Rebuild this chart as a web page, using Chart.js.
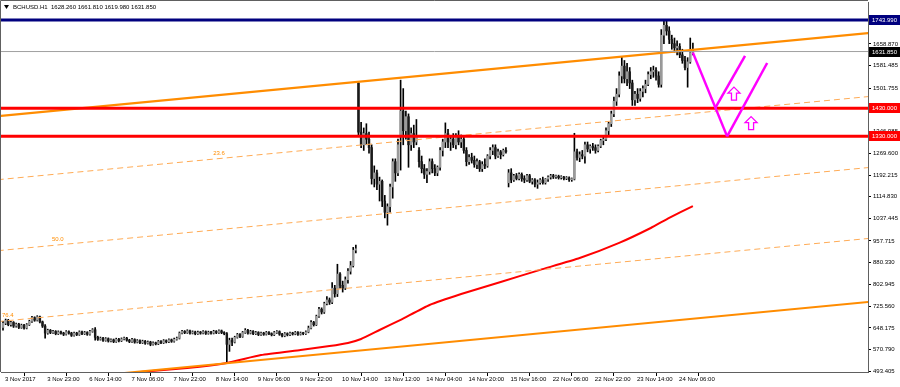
<!DOCTYPE html>
<html>
<head>
<meta charset="utf-8">
<title>BCHUSD H1</title>
<script src="https://cdn.jsdelivr.net/npm/chart.js@4.4.0/dist/chart.umd.min.js"></script>
<style>
  html, body { margin: 0; padding: 0; background: #fff; }
  #chart { display: block; }
</style>
</head>
<body>
<canvas id="chart" width="900" height="387"></canvas>
<script>
// BCHUSD H1 bars (3 Nov - 24 Nov 2017)
const opens = [
  650,665,675,660,668,655,662,650,658,648,
  660,672,685,676,688,670,655,630,640,632,
  636,628,634,630,626,635,630,622,630,625,
  634,628,632,626,636,642,615,608,612,604,
  610,602,606,600,608,603,609,612,605,600,
  607,598,603,596,601,594,598,590,595,592,
  600,596,603,599,606,601,608,612,630,636,
  632,638,630,634,628,633,630,635,629,633,
  630,636,632,638,632,628,590,604,598,615,
  625,618,632,640,630,636,628,632,625,630,
  626,632,628,624,632,635,626,620,628,624,
  630,627,632,626,630,628,634,648,668,660,
  690,715,705,735,748,740,790,770,840,800,
  790,820,850,870,925,1520,1345,1300,1340,1320,
  1290,1180,1200,1160,1170,1100,1060,1080,1150,1240,
  1200,1330,1420,1350,1400,1300,1340,1310,1280,1240,
  1215,1195,1205,1240,1215,1200,1220,1280,1310,1340,
  1310,1320,1300,1330,1310,1320,1280,1240,1255,1245,
  1230,1240,1215,1230,1225,1260,1280,1290,1260,1275,
  1265,1280,1165,1200,1175,1190,1180,1195,1180,1175,
  1190,1170,1175,1160,1165,1175,1165,1178,1185,1190,
  1186,1188,1183,1185,1180,1182,1176,1178,1275,1255,
  1265,1260,1300,1285,1295,1290,1280,1295,1315,1320,
  1350,1375,1410,1455,1480,1545,1580,1535,1560,1520,
  1460,1480,1465,1490,1500,1515,1550,1560,1565,1545,
  1515,1690,1725,1705,1675,1660,1645,1650,1620,1600,
  1575,1595,1628.26
];
const highs = [
  672,680,679,672,671,666,665,662,661,664,
  676,690,688,692,691,673,660,644,643,640,
  639,638,637,633,639,638,633,634,633,638,
  637,636,635,640,646,650,619,616,615,614,
  613,610,609,612,611,613,616,615,608,611,
  610,607,606,605,604,602,601,599,598,604,
  603,607,606,610,609,612,616,634,640,639,
  642,641,638,637,637,636,639,638,637,636,
  640,639,642,641,635,632,612,612,619,629,
  628,636,646,643,640,639,636,635,634,633,
  636,635,631,636,639,638,629,632,631,634,
  633,636,635,634,633,638,655,675,672,694,
  722,720,740,760,755,810,800,875,845,815,
  830,860,885,935,943,1525,1380,1360,1375,1345,
  1300,1225,1210,1185,1175,1120,1090,1160,1250,1250,
  1320,1530,1500,1420,1410,1360,1370,1390,1290,1260,
  1230,1215,1250,1250,1230,1225,1290,1320,1378,1355,
  1330,1340,1340,1350,1335,1330,1290,1265,1270,1260,
  1250,1245,1240,1250,1265,1290,1300,1300,1285,1280,
  1285,1290,1212,1215,1195,1198,1200,1200,1190,1195,
  1195,1180,1180,1175,1180,1185,1180,1190,1195,1195,
  1192,1192,1190,1188,1187,1186,1182,1341,1285,1275,
  1280,1310,1310,1300,1305,1300,1300,1320,1330,1360,
  1380,1420,1470,1500,1560,1612,1600,1590,1575,1530,
  1490,1500,1500,1510,1530,1560,1575,1580,1575,1560,
  1710,1740,1744,1720,1690,1680,1670,1660,1640,1615,
  1610,1680,1661.81
];
const lows = [
  640,660,656,655,650,651,646,647,644,645,
  657,668,672,673,666,650,612,626,628,629,
  624,625,626,621,623,626,618,619,621,622,
  624,625,622,623,633,605,604,605,600,601,
  598,599,596,597,599,600,606,601,596,597,
  594,595,592,593,590,591,585,587,588,589,
  592,593,595,596,597,598,605,609,627,628,
  629,626,627,624,625,626,627,625,626,626,
  627,628,629,628,624,526,565,585,595,612,
  614,615,629,626,627,624,625,621,622,622,
  623,624,620,621,629,622,616,617,620,621,
  623,624,622,623,624,625,631,645,655,657,
  686,698,700,730,732,735,758,760,790,776,
  785,808,840,865,915,1330,1290,1280,1300,1270,
  1160,1150,1140,1100,1080,1040,1014,1060,1110,1170,
  1190,1210,1300,1320,1220,1280,1290,1300,1220,1200,
  1180,1165,1195,1200,1190,1190,1210,1260,1290,1290,
  1280,1290,1285,1300,1290,1270,1225,1230,1235,1220,
  1215,1205,1205,1215,1220,1250,1265,1250,1255,1250,
  1260,1270,1150,1165,1170,1175,1175,1170,1165,1170,
  1165,1160,1150,1145,1160,1160,1160,1170,1178,1180,
  1180,1178,1178,1175,1176,1170,1170,1175,1245,1240,
  1250,1235,1275,1270,1280,1270,1275,1290,1300,1315,
  1330,1365,1400,1440,1470,1520,1520,1510,1500,1440,
  1440,1450,1455,1470,1485,1510,1535,1540,1530,1505,
  1505,1660,1690,1660,1640,1630,1620,1610,1590,1566,
  1505,1590,1619.98
];
const closes = [
  665,675,660,668,655,662,650,658,648,660,
  672,685,676,688,670,655,630,640,632,636,
  628,634,630,626,635,630,622,630,625,634,
  628,632,626,636,642,615,608,612,604,610,
  602,606,600,608,603,609,612,605,600,607,
  598,603,596,601,594,598,590,595,592,600,
  596,603,599,606,601,608,612,630,636,632,
  638,630,634,628,633,630,635,629,633,630,
  636,632,638,632,628,590,604,598,615,625,
  618,632,640,630,636,628,632,625,630,626,
  632,628,624,632,635,626,620,628,624,630,
  627,632,626,630,628,634,648,668,660,690,
  715,705,735,748,740,790,770,840,800,790,
  820,850,870,925,930,1345,1300,1340,1320,1290,
  1180,1200,1160,1170,1100,1060,1080,1150,1240,1200,
  1300,1420,1350,1400,1300,1340,1310,1330,1240,1215,
  1195,1205,1240,1215,1200,1220,1280,1310,1340,1310,
  1320,1300,1330,1310,1320,1280,1240,1255,1245,1230,
  1240,1215,1230,1225,1260,1280,1290,1260,1275,1265,
  1280,1275,1200,1175,1190,1180,1195,1180,1175,1190,
  1170,1175,1160,1165,1175,1165,1178,1185,1190,1186,
  1188,1183,1185,1180,1182,1176,1178,1275,1255,1265,
  1260,1300,1285,1295,1290,1280,1295,1315,1320,1350,
  1375,1410,1455,1480,1545,1580,1535,1560,1520,1460,
  1480,1465,1490,1500,1515,1550,1560,1565,1545,1515,
  1690,1725,1705,1675,1660,1645,1650,1620,1600,1575,
  1595,1628,1631.85
];

// time axis: one label every 16 bars
const labelStep = 16;
const timeLabels = [
  '3 Nov 2017', '3 Nov 23:00', '6 Nov 14:00', '7 Nov 06:00', '7 Nov 22:00',
  '8 Nov 14:00', '9 Nov 06:00', '9 Nov 22:00', '10 Nov 14:00', '13 Nov 12:00',
  '14 Nov 04:00', '14 Nov 20:00', '15 Nov 16:00', '22 Nov 06:00', '22 Nov 22:00',
  '23 Nov 14:00', '24 Nov 06:00'
];
const priceTicks = [
  493.405, 570.790, 648.175, 725.560, 802.945, 880.330, 957.715, 1037.445,
  1114.830, 1192.215, 1269.600, 1346.985, 1424.370, 1501.755, 1581.485,
  1658.870, 1736.255
];

// red moving average, sampled at bar indices
const maBars = [52, 70, 85, 98, 113, 124, 131, 136, 143, 151, 162, 174, 189, 204, 219, 234, 246, 253, 262];
const maValues = [491.6, 506, 524, 552, 570, 584, 595, 609, 641, 677, 730, 769, 812, 855, 897, 951, 1004, 1040, 1082];

// fibonacci channel, price of each level at the two end bars
const channelBars = [-2, 330];
const channelNames = ['0.0', '23.6', '50.0', '76.4', '100.0'];
const channelStart = [1401.8, 1175.8, 923.2, 670.9, 445.0];
const channelEnd = [1698.7, 1472.8, 1220.2, 967.9, 742.0];
const channelLabelBars = [null, 79.8, 18.6, -0.4, null];

// horizontal levels
const levelPrices = [1743.99, 1631.85, 1430, 1330];
const levelColors = ['#00007f', '#a0a0a0', '#ff0000', '#ff0000'];
const levelWidths = [3, 1, 3, 3];
const levelBoxColors = ['#00007f', '#000000', '#ff0000', '#ff0000'];

// magenta "V" pattern and arrows
const patternBars = [[262, 275], [270.4, 281.8], [275, 290.2]];
const patternPrices = [[1628, 1330], [1430, 1616], [1330, 1591]];
const arrowBars = [277.6, 284.1];
const arrowPrices = [1482, 1377];

const header = 'BCHUSD.H1  1628.260 1661.810 1619.980 1631.850';
const FONT = '"Liberation Sans", Arial, sans-serif';

function lineSet(points, color, width, dash, order) {
    return {
        type: 'line',
        data: points,
        borderColor: color,
        borderWidth: width,
        borderDash: dash || [],
        pointRadius: 0,
        fill: false,
        order: order
    };
}

const datasets = [];

// candles: wick + body as floating bars
datasets.push({
    label: 'wick',
    data: closes.map((c, i) => ({ x: i, y: [lows[i], highs[i]] })),
    backgroundColor: '#000',
    barThickness: 1,
    grouped: false,
    order: 20
});
datasets.push({
    label: 'body',
    data: closes.map((c, i) => ({ x: i, y: [opens[i], c] })),
    backgroundColor: closes.map((c, i) => c >= opens[i] ? '#9a9a9a' : '#1a1a1a'),
    barThickness: 1.8,
    minBarLength: 1,
    grouped: false,
    order: 19
});

// moving average
datasets.push(Object.assign(
    lineSet(maBars.map((b, k) => ({ x: b, y: maValues[k] })), '#ff0000', 2, null, 5),
    { tension: 0.15 }
));

// channel lines
channelNames.forEach((n, k) => {
    const solid = k === 0 || k === channelNames.length - 1;
    datasets.push(lineSet(
        [{ x: channelBars[0], y: channelStart[k] }, { x: channelBars[1], y: channelEnd[k] }],
        solid ? '#ff8c00' : '#ffab55',
        solid ? 2 : 1,
        solid ? null : [6, 4],
        solid ? 3 : 4
    ));
});

// horizontal levels
levelPrices.forEach((p, k) => {
    datasets.push(lineSet(
        [{ x: channelBars[0], y: p }, { x: channelBars[1], y: p }],
        levelColors[k], levelWidths[k], null, 2
    ));
});

// pattern
patternBars.forEach((b, k) => {
    datasets.push(lineSet(
        [{ x: b[0], y: patternPrices[k][0] }, { x: b[1], y: patternPrices[k][1] }],
        '#ff00ff', 2.5, null, 1
    ));
});

// text, arrows, axis boxes and frame
const overlay = {
    id: 'overlay',
    afterDatasetsDraw(chart) {
        const { ctx, scales: { x, y } } = chart;
        ctx.save();

        // channel level labels
        ctx.font = '6px ' + FONT;
        ctx.fillStyle = '#ff8c00';
        ctx.textAlign = 'left';
        ctx.textBaseline = 'bottom';
        channelLabelBars.forEach((b, k) => {
            if (b === null) return;
            const t = (b - channelBars[0]) / (channelBars[1] - channelBars[0]);
            const p = channelStart[k] + (channelEnd[k] - channelStart[k]) * t;
            ctx.fillText(channelNames[k], Math.max(x.getPixelForValue(b), 2), y.getPixelForValue(p) - 3);
        });

        // up arrows
        ctx.strokeStyle = '#ff00ff';
        ctx.fillStyle = '#fff';
        ctx.lineWidth = 1.3;
        arrowBars.forEach((b, k) => {
            const cx = x.getPixelForValue(b);
            const cy = y.getPixelForValue(arrowPrices[k]);
            ctx.beginPath();
            ctx.moveTo(cx, cy - 6.5);
            ctx.lineTo(cx + 6, cy - 0.5);
            ctx.lineTo(cx + 2.5, cy - 0.5);
            ctx.lineTo(cx + 2.5, cy + 6.5);
            ctx.lineTo(cx - 2.5, cy + 6.5);
            ctx.lineTo(cx - 2.5, cy - 0.5);
            ctx.lineTo(cx - 6, cy - 0.5);
            ctx.closePath();
            ctx.fill();
            ctx.stroke();
        });
        ctx.restore();
    },
    afterDraw(chart) {
        const { ctx, chartArea: a, scales: { y } } = chart;
        ctx.save();

        // frame
        ctx.strokeStyle = '#606060';
        ctx.lineWidth = 1;
        ctx.beginPath();
        ctx.moveTo(0.5, a.bottom);
        ctx.lineTo(0.5, 0.5);
        ctx.lineTo(a.right, 0.5);
        ctx.stroke();

        // price boxes on the axis
        ctx.font = '6px ' + FONT;
        ctx.textBaseline = 'middle';
        ctx.textAlign = 'left';
        levelPrices.forEach((p, k) => {
            const py = Math.round(y.getPixelForValue(p));
            ctx.fillStyle = levelBoxColors[k];
            ctx.fillRect(a.right + 1, py - 5, 31, 10);
            ctx.fillStyle = '#fff';
            ctx.fillText(p.toFixed(3), a.right + 4, py + 0.5);
        });

        // header
        ctx.fillStyle = '#000';
        ctx.beginPath();
        ctx.moveTo(4, 5);
        ctx.lineTo(9, 5);
        ctx.lineTo(6.5, 9);
        ctx.closePath();
        ctx.fill();
        ctx.fillText(header, 13, 7.5);
        ctx.restore();
    }
};

const ctx = document.getElementById('chart');
const chart = new Chart(ctx, {
    type: 'bar',
    data: { datasets: datasets },
    plugins: [overlay],
    options: {
        responsive: false,
        animation: false,
        layout: { padding: { left: 1, top: 2, right: 0, bottom: 0 } },
        plugins: {
            legend: { display: false },
            tooltip: { enabled: false }
        },
        scales: {
            x: {
                type: 'linear',
                min: -0.76,
                max: 328.5,
                offset: false,
                grid: { display: true, drawOnChartArea: false, drawTicks: true, tickLength: 4, color: '#000' },
                border: { display: true, color: '#606060' },
                afterBuildTicks: (s) => { s.ticks = timeLabels.map((t, k) => ({ value: k * labelStep })); },
                afterFit: (s) => { s.height = 15; s.paddingLeft = 0; s.paddingRight = 0; },
                ticks: {
                    autoSkip: false,
                    maxRotation: 0,
                    minRotation: 0,
                    align: 'start',
                    padding: 0,
                    labelOffset: 2,
                    color: '#000',
                    font: { family: FONT, size: 6 },
                    callback: (v) => timeLabels[Math.round(v / labelStep)] || ''
                }
            },
            y: {
                position: 'right',
                min: 491.6,
                max: 1808.1,
                grid: { display: true, drawOnChartArea: false, drawTicks: true, tickLength: 3, color: '#000' },
                border: { display: true, color: '#606060' },
                afterBuildTicks: (s) => { s.ticks = priceTicks.map(v => ({ value: v })); },
                afterFit: (s) => { s.width = 32; s.paddingTop = 0; s.paddingBottom = 0; },
                ticks: {
                    autoSkip: false,
                    padding: 2,
                    color: '#000',
                    font: { family: FONT, size: 6 },
                    callback: (v) => Number(v).toFixed(3)
                }
            }
        }
    }
});
</script>
</body>
</html>
